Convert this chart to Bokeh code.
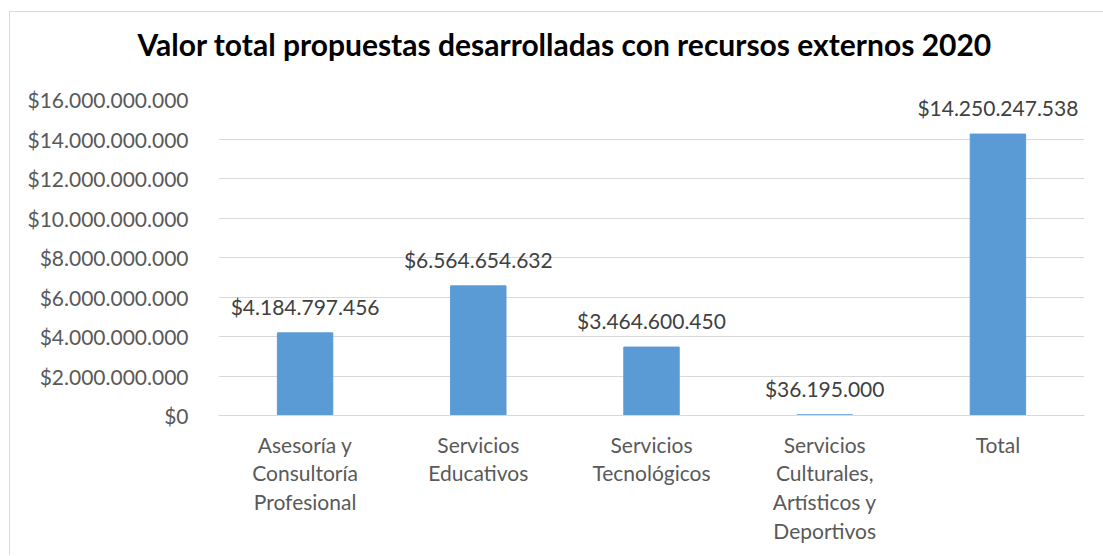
from bokeh.plotting import figure
from bokeh.models import ColumnDataSource, FixedTicker, LabelSet
from bokeh.core.properties import value
from bokeh.embed import file_html
from bokeh.resources import INLINE

title = "Valor total propuestas desarrolladas con recursos externos 2020"
categories = ["Asesoría y\nConsultoría\nProfesional", "Servicios\nEducativos", "Servicios\nTecnológicos",
              "Servicios\nCulturales,\nArtísticos y\nDeportivos", "Total"]
values = [4184797456, 6564654632, 3464600450, 36195000, 14250247538]
y_ticks = [0, 2000000000, 4000000000, 6000000000, 8000000000, 10000000000, 12000000000, 14000000000, 16000000000]

def fmt(v):
    return "$" + f"{v:,.0f}".replace(",", ".")

FONT = "Lato"
src = ColumnDataSource(dict(cat=categories, val=values, lab=[fmt(v) for v in values]))

p = figure(x_range=categories, y_range=(0, y_ticks[-1]), width=1094, height=544,
           output_backend="svg", toolbar_location=None,
           min_border_left=208, min_border_right=20, min_border_top=87, min_border_bottom=141)
# trailing empty line lifts the title away from the plot frame
p.title.text = title + "\n "
p.title.text_font = FONT
p.title.text_font_size = "30px"
p.title.text_font_style = "bold"
p.title.text_color = "#000000"
p.title.text_line_height = 1.0
p.title.align = "left"
p.title.offset = -81
p.title.standoff = 4

p.vbar(x="cat", top="val", width=0.32, source=src, color="#5B9BD5")
p.add_layout(LabelSet(x="cat", y="val", text="lab", source=src, text_align="center",
                      text_baseline="bottom", y_offset=14, text_font=value(FONT),
                      text_font_size="21px", text_color="#404040"))

p.outline_line_color = None
p.xgrid.grid_line_color = None
p.ygrid.grid_line_color = "#d9d9d9"
p.ygrid.grid_line_width = 1

p.yaxis.ticker = FixedTicker(ticks=y_ticks)
p.yaxis.major_label_overrides = {t: fmt(t) for t in y_ticks}
p.yaxis.axis_line_color = None
p.yaxis.major_tick_line_color = None
p.yaxis.minor_tick_line_color = None
p.yaxis.major_label_standoff = 24
p.yaxis.major_label_text_font = FONT
p.yaxis.major_label_text_font_size = "21px"
p.yaxis.major_label_text_color = "#595959"

p.xaxis.axis_line_color = "#d9d9d9"
p.xaxis.major_tick_line_color = None
p.xaxis.minor_tick_line_color = None
p.xaxis.major_label_standoff = 10
p.xaxis.major_label_text_font = FONT
p.xaxis.major_label_text_font_size = "21px"
p.xaxis.major_label_text_color = "#595959"
p.xaxis.major_label_text_line_height = 1.15

p.styles = {"margin-left": "9px", "margin-top": "11px",
            "border-left": "1px solid #d9d9d9", "border-top": "1px solid #d9d9d9"}

open("out.html", "w").write(file_html(p, INLINE))
